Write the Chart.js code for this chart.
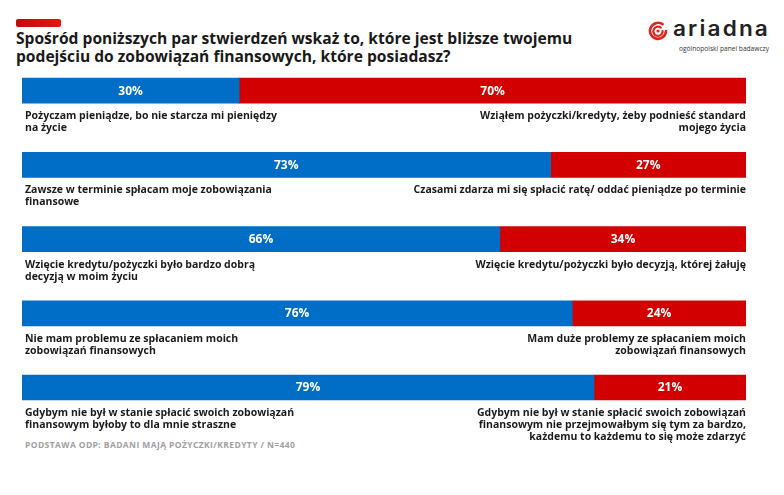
<!DOCTYPE html>
<html>
<head>
<meta charset="utf-8">
<script src="https://cdn.jsdelivr.net/npm/chart.js@4.4.0/dist/chart.umd.min.js"></script>
<style>
  html, body { margin: 0; padding: 0; background: #fff; }
  #page { position: relative; width: 784px; height: 495px; overflow: hidden; font-family: "Open Sans", sans-serif; }
  #accent { position: absolute; left: 16px; top: 19px; width: 45px; height: 8px; border-radius: 2px;
            background: linear-gradient(90deg, #c40a0a, #e3170f); }
  #title { position: absolute; left: 16px; top: 30px; font-size: 15.6px; font-weight: 700; line-height: 17.5px; color: #1a1a1a; }
  #logo { position: absolute; left: 648px; top: 20px; width: 130px; height: 32px; }
  #logo .name { position: absolute; left: 25px; top: -4px; font-family: "Inter", sans-serif; font-weight: 600; font-size: 21px; letter-spacing: 2px; color: #222; white-space: nowrap; transform-origin: 0 50%; }
  #logo .sub { position: absolute; left: 31px; top: 23px; font-size: 7.6px; color: #333; white-space: nowrap; transform-origin: 0 50%; }
  #footer { position: absolute; left: 25px; top: 439px; font-size: 8.5px; font-weight: 700; color: #a0a0a0; letter-spacing: 0.4px; }
  canvas { position: absolute; left: 0; top: 0; }
</style>
</head>
<body>
<div id="page">
  <div id="accent"></div>
  <div id="title">Spośród poniższych par stwierdzeń wskaż to, które jest bliższe twojemu<br>podejściu do zobowiązań finansowych, które posiadasz?</div>
  <div id="logo">
    <svg width="20" height="20" viewBox="0 0 20 20" style="position:absolute;left:0;top:1px">
      <path d="M14.5 3.2 A8 8 0 1 0 18 10" fill="none" stroke="#e2231a" stroke-width="2.6" stroke-linecap="round"/>
      <path d="M12.8 6.6 A4.6 4.6 0 1 0 14.6 10" fill="none" stroke="#e2231a" stroke-width="2.2" stroke-linecap="round"/>
      <circle cx="10" cy="10" r="1.6" fill="#e2231a"/>
    </svg>
    <span class="name" id="logoName">ariadna</span>
    <span class="sub" id="logoSub">ogólnopolski panel badawczy</span>
  </div>
  <div id="footer">PODSTAWA ODP: BADANI MAJĄ POŻYCZKI/KREDYTY / N=440</div>
  <canvas id="chart" width="784" height="495"></canvas>
</div>
<script>
// pairs of statements, one row per bar
const categories = ['p1', 'p2', 'p3', 'p4', 'p5'];
const leftValues = [30, 73, 66, 76, 79];
const rightValues = [70, 27, 34, 24, 21];
const leftLabels = [
  ['Pożyczam pieniądze, bo nie starcza mi pieniędzy', 'na życie'],
  ['Zawsze w terminie spłacam moje zobowiązania', 'finansowe'],
  ['Wzięcie kredytu/pożyczki było bardzo dobrą', 'decyzją w moim życiu'],
  ['Nie mam problemu ze spłacaniem moich', 'zobowiązań finansowych'],
  ['Gdybym nie był w stanie spłacić swoich zobowiązań', 'finansowym byłoby to dla mnie straszne']
];
const rightLabels = [
  ['Wziąłem pożyczki/kredyty, żeby podnieść standard', 'mojego życia'],
  ['Czasami zdarza mi się spłacić ratę/ oddać pieniądze po terminie'],
  ['Wzięcie kredytu/pożyczki było decyzją, której żałuję'],
  ['Mam duże problemy ze spłacaniem moich', 'zobowiązań finansowych'],
  ['Gdybym nie był w stanie spłacić swoich zobowiązań', 'finansowym nie przejmowałbym się tym za bardzo,', 'każdemu to każdemu to się może zdarzyć']
];

const BLUE = '#006dc6';
const RED = '#d20000';

// stretch the logo words to the widths they have in the original
function fitWidth(el, w) {
  el.style.transform = 'scaleX(' + (w / el.getBoundingClientRect().width) + ')';
}
fitWidth(document.getElementById('logoName'), 97);
fitWidth(document.getElementById('logoSub'), 90);

// percent inside each segment + statements under each bar
const labelsPlugin = {
  id: 'pairLabels',
  afterDatasetsDraw(chart) {
    const ctx = chart.ctx;
    const area = chart.chartArea;
    ctx.save();
    ctx.fillStyle = '#fff';
    ctx.font = '700 12px "Open Sans"';
    ctx.textAlign = 'center';
    ctx.textBaseline = 'middle';
    chart.data.datasets.forEach((ds, di) => {
      chart.getDatasetMeta(di).data.forEach((bar, i) => {
        ctx.fillText(ds.data[i] + '%', (bar.x + bar.base) / 2, bar.y + 0.5);
      });
    });

    ctx.fillStyle = '#1b1b1b';
    ctx.font = '700 10.5px "Open Sans"';
    ctx.textBaseline = 'alphabetic';
    chart.getDatasetMeta(0).data.forEach((bar, i) => {
      const bottom = bar.y + bar.height / 2;
      ctx.textAlign = 'left';
      leftLabels[i].forEach((line, k) => ctx.fillText(line, area.left + 3, bottom + 16 + k * 12));
      ctx.textAlign = 'right';
      rightLabels[i].forEach((line, k) => ctx.fillText(line, area.right, bottom + 16 + k * 12));
    });
    ctx.restore();
  }
};

new Chart(document.getElementById('chart'), {
  type: 'bar',
  data: {
    labels: categories,
    datasets: [
      { data: leftValues, backgroundColor: BLUE, barThickness: 25, borderWidth: 0 },
      { data: rightValues, backgroundColor: RED, barThickness: 25, borderWidth: 0 }
    ]
  },
  options: {
    indexAxis: 'y',
    responsive: false,
    devicePixelRatio: 1,
    animation: false,
    layout: { padding: { left: 22, right: 38, top: 53.6, bottom: 70.4 } },
    scales: {
      x: { stacked: true, min: 0, max: 100, display: false },
      y: { stacked: true, display: false }
    },
    plugins: { legend: { display: false }, tooltip: { enabled: false } }
  },
  plugins: [labelsPlugin]
});
</script>
</body>
</html>
